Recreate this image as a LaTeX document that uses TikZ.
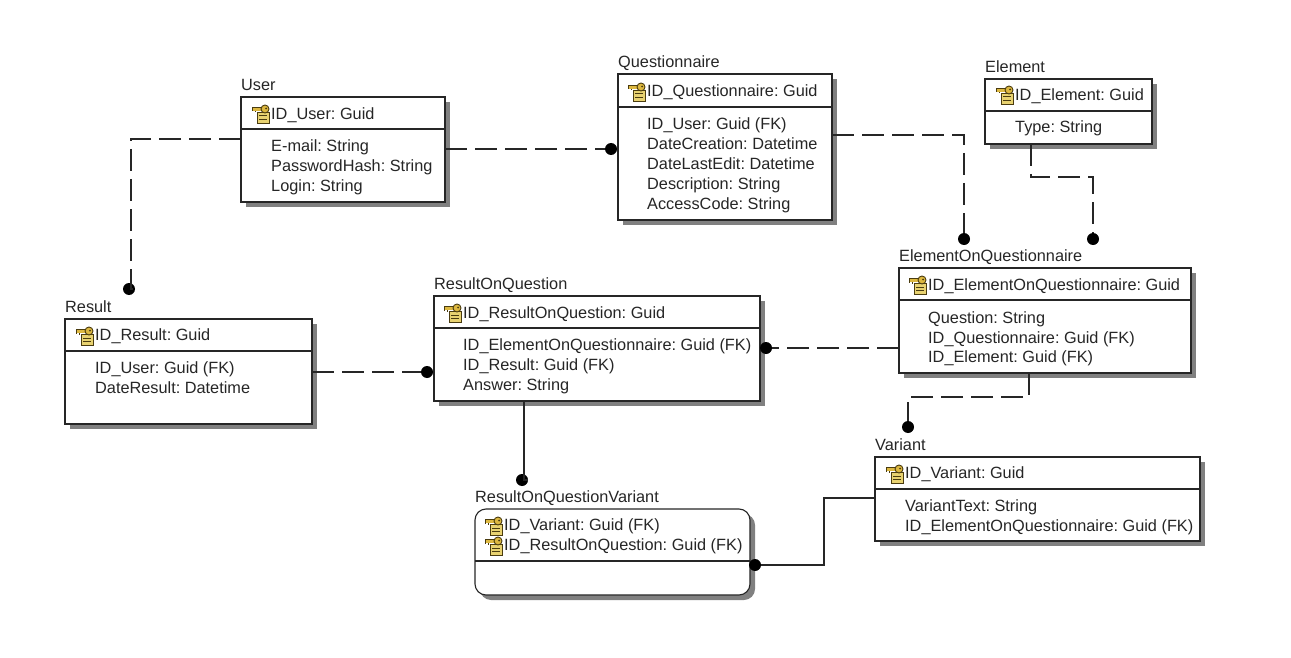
\documentclass[tikz,border=0pt]{standalone}
\usepackage{fontspec}
\setmainfont{Liberation Sans}
\definecolor{keygold}{HTML}{DDB840}
\definecolor{boxgold}{HTML}{E8D270}
\definecolor{iconline}{HTML}{4A3C10}
\begin{document}
\frenchspacing
\begin{tikzpicture}[x=1pt,y=-1pt,
  ent/.style={draw=black!85,line width=1.1pt,fill=white,inner sep=0pt,outer sep=0pt,anchor=north west,
    preaction={draw=none,fill=black!50,transform canvas={shift={(5pt,-5pt)}}}},
  txt/.style={anchor=base west,inner sep=0pt,yshift=-0.7pt,font=\fontsize{16.3}{18}\selectfont,text=black!85},
  rule/.style={line width=1.1pt,draw=black!85},
  dashline/.style={line width=1.15pt,draw=black!85,dash pattern=on 22pt off 8pt},
  solidline/.style={line width=1.15pt,draw=black!85},
  enddot/.style={circle,fill=black,inner sep=0pt,minimum size=12pt}]
\useasboundingbox (0,0) rectangle (1291,658);
\newcommand{\keyicon}[2]{%
  \begin{scope}[shift={(#1,#2)}]
    \fill[boxgold,draw=iconline,line width=.9pt] (5,7) rectangle (17,18);
    \draw[iconline,line width=1pt] (7,11)--(15,11) (7,14.5)--(15,14.5);
    \fill[keygold] (0,2.5) rectangle (10,6);
    \draw[iconline,line width=.9pt] (0,2.5) -- (10,2.5) (0,2.5) -- (0,6.5) (3,6) -- (3,7.5);
    \fill[keygold,draw=iconline,line width=.9pt] (13,4) circle (4);
    \fill[iconline] (14,3.5) circle (1);
  \end{scope}}
\newcommand{\entity}[7]{% name,x1,y1,x2,y2,dividerY,title
  \node[ent,minimum width={(#4-#2)*1pt},minimum height={(#5-#3)*1pt}] (#1) at (#2,#3) {};
  \draw[rule] (#2,#6) -- (#4,#6);
  \node[txt] (#1-title) at (#2,{#3-7}) {#7};}
\newcommand{\fld}[4]{\node[txt] (#1) at (#2,#3) {#4};}

% User
\entity{user}{241}{97}{445}{202}{129}{User}
\keyicon{252}{105}
\fld{u1}{271}{119}{ID\_User: Guid}
\fld{u2}{271}{151}{E-mail: String}
\fld{u3}{271}{171}{PasswordHash: String}
\fld{u4}{271}{191}{Login: String}
% Questionnaire
\entity{quest}{618}{74}{832}{220}{107}{Questionnaire}
\keyicon{628}{83}
\fld{q1}{647}{96}{ID\_Questionnaire: Guid}
\fld{q2}{647}{129}{ID\_User: Guid (FK)}
\fld{q3}{647}{149}{DateCreation: Datetime}
\fld{q4}{647}{169}{DateLastEdit: Datetime}
\fld{q5}{647}{189}{Description: String}
\fld{q6}{647}{209}{AccessCode: String}
% Element
\entity{elem}{985}{79}{1152}{144}{111}{Element}
\keyicon{996}{86}
\fld{e1}{1015}{100}{ID\_Element: Guid}
\fld{e2}{1015}{132}{Type: String}
% ElementOnQuestionnaire
\entity{eoq}{899}{268}{1191}{373}{300}{ElementOnQuestionnaire}
\keyicon{909}{276}
\fld{eq1}{928}{290}{ID\_ElementOnQuestionnaire: Guid}
\fld{eq2}{928}{323}{Question: String}
\fld{eq3}{928}{343}{ID\_Questionnaire: Guid (FK)}
\fld{eq4}{928}{362}{ID\_Element: Guid (FK)}
% ResultOnQuestion
\entity{roq}{434}{296}{760}{401}{328}{ResultOnQuestion}
\keyicon{444}{304}
\fld{r1}{463}{318}{ID\_ResultOnQuestion: Guid}
\fld{r2}{463}{350}{ID\_ElementOnQuestionnaire: Guid (FK)}
\fld{r3}{463}{370}{ID\_Result: Guid (FK)}
\fld{r4}{463}{390}{Answer: String}
% Result
\entity{res}{65}{319}{312}{424}{351}{Result}
\keyicon{76}{327}
\fld{s1}{95}{340}{ID\_Result: Guid}
\fld{s2}{95}{373}{ID\_User: Guid (FK)}
\fld{s3}{95}{393}{DateResult: Datetime}
% Variant
\entity{var}{875}{457}{1200}{541}{489}{Variant}
\keyicon{886}{465}
\fld{v1}{905}{478}{ID\_Variant: Guid}
\fld{v2}{905}{511}{VariantText: String}
\fld{v3}{905}{531}{ID\_ElementOnQuestionnaire: Guid (FK)}
% ResultOnQuestionVariant
\node[ent,rounded corners=11pt,minimum width=275pt,minimum height=86pt] (roqv) at (475,509) {};
\draw[rule] (475,561) -- (750,561);
\node[txt] (roqv-title) at (475,502) {ResultOnQuestionVariant};
\keyicon{485}{517}
\keyicon{485}{537}
\fld{w1}{504}{530}{ID\_Variant: Guid (FK)}
\fld{w2}{504}{550}{ID\_ResultOnQuestion: Guid (FK)}

% connector ends
\node[enddot] (d1) at (129,289) {};
\node[enddot] (d2) at (611,149) {};
\node[enddot] (d3) at (964,239) {};
\node[enddot] (d4) at (1093,239) {};
\node[enddot] (d5) at (766,348) {};
\node[enddot] (d6) at (427,372) {};
\node[enddot] (d7) at (522,480) {};
\node[enddot] (d8) at (908,427) {};
\node[enddot] (d9) at (755,565) {};

\coordinate (c1) at (131,139);
\draw[dashline] (user.west |- c1) -- (c1) -- (c1 |- d1) -- (d1);
\draw[dashline] (user.east |- d2) -- (d2);
\coordinate (c3) at (964,135);
\draw[dashline] (quest.east |- c3) -- (c3) -- (d3);
\coordinate (c4b) at (1031,177);
\coordinate (c4c) at (1093,177);
\draw[dashline] (c4b |- elem.south) -- (c4b) -- (c4c) -- (d4);
\draw[dashline] (eoq.west |- d5) -- (d5);
\draw[dashline] (res.east |- d6) -- (d6);
\coordinate (c7) at (524,401);
\draw[solidline] (c7) -- (c7 |- d7) -- (d7);
\coordinate (c8a) at (1029,397);
\coordinate (c8b) at (908,397);
\draw[dashline] (c8a |- eoq.south) -- (c8a) -- (c8b) -- (d8);
\coordinate (c9a) at (824,498);
\coordinate (c9b) at (824,565);
\draw[solidline] (var.west |- c9a) -- (c9a) -- (c9b) -- (d9);
\end{tikzpicture}
\end{document}
